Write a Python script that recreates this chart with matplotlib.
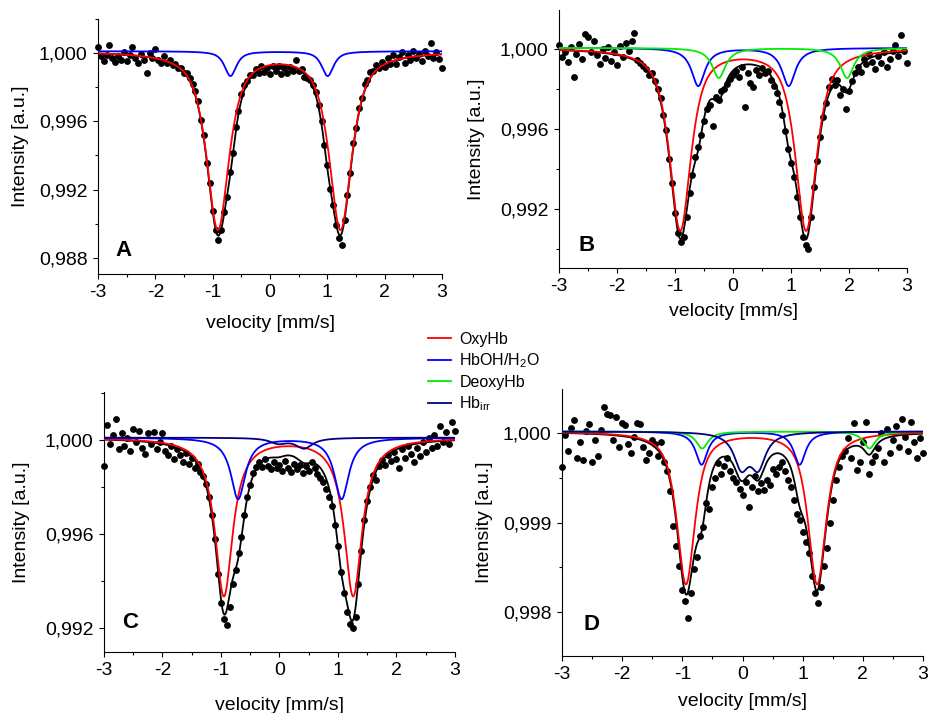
"""Four Moessbauer spectra (A-D) of haemoglobin samples with fitted sub-spectra."""

import numpy as np
import matplotlib
matplotlib.use("Agg")
import matplotlib.pyplot as plt
from matplotlib.lines import Line2D
from matplotlib.ticker import FuncFormatter, MultipleLocator

plt.rcParams["font.family"] = ["Liberation Sans", "DejaVu Sans"]
plt.rcParams["axes.unicode_minus"] = False
plt.rcParams["mathtext.default"] = "regular"

# channel velocities (mm/s)
VEL = np.linspace(-3.0, 3.0, 121)

INT_A = [
    1.00038, 0.99983, 0.99957, 0.99992, 1.00051, 0.99970, 0.99950, 0.99984, 0.99959, 1.00008,
    0.99952, 0.99991, 1.00035, 0.99974, 0.99942, 0.99996, 0.99960, 0.99883, 1.00002, 0.99970,
    1.00027, 0.99960, 0.99943, 0.99984, 0.99940, 0.99960, 0.99930, 0.99938, 0.99915, 0.99915,
    0.99884, 0.99883, 0.99852, 0.99822, 0.99778, 0.99719, 0.99611, 0.99520, 0.99358, 0.99236,
    0.99073, 0.98963, 0.98903, 0.98961, 0.99069, 0.99158, 0.99304, 0.99416, 0.99570, 0.99662,
    0.99758, 0.99815, 0.99839, 0.99874, 0.99874, 0.99907, 0.99886, 0.99923, 0.99888, 0.99912,
    0.99881, 0.99927, 0.99894, 0.99924, 0.99879, 0.99913, 0.99886, 0.99918, 0.99894, 0.99960,
    0.99893, 0.99906, 0.99863, 0.99856, 0.99845, 0.99816, 0.99774, 0.99695, 0.99601, 0.99460,
    0.99346, 0.99201, 0.99111, 0.98990, 0.98916, 0.98877, 0.99020, 0.99170, 0.99298, 0.99471,
    0.99561, 0.99681, 0.99740, 0.99817, 0.99841, 0.99892, 0.99893, 0.99933, 0.99914, 0.99949,
    0.99922, 0.99973, 0.99938, 0.99987, 0.99936, 0.99980, 1.00009, 0.99940, 0.99992, 0.99959,
    1.00011, 0.99972, 0.99994, 0.99955, 1.00012, 0.99983, 1.00059, 0.99974, 1.00005, 0.99965,
    0.99911,
]
INT_B = [
    1.00020, 0.99960, 0.99985, 0.99935, 1.00010, 0.99860, 0.99975, 1.00025, 0.99950, 1.00075,
    1.00060, 0.99985, 1.00040, 0.99970, 0.99925, 1.00000, 0.99955, 1.00010, 0.99940, 0.99985,
    0.99920, 1.00015, 0.99960, 1.00030, 0.99990, 1.00040, 1.00080, 0.99945, 0.99930, 0.99915,
    0.99900, 0.99870, 0.99880, 0.99840, 0.99800, 0.99755, 0.99670, 0.99595, 0.99450, 0.99330,
    0.99180, 0.99080, 0.99035, 0.99060, 0.99160, 0.99280, 0.99370, 0.99460, 0.99510, 0.99570,
    0.99640, 0.99700, 0.99720, 0.99615, 0.99760, 0.99745, 0.99790, 0.99800, 0.99825, 0.99850,
    0.99870, 0.99890, 0.99860, 0.99910, 0.99710, 0.99880, 0.99830, 0.99810, 0.99895, 0.99870,
    0.99905, 0.99880, 0.99890, 0.99845, 0.99815, 0.99780, 0.99735, 0.99670, 0.99590, 0.99500,
    0.99430, 0.99360, 0.99260, 0.99160, 0.99060, 0.99020, 0.99000, 0.99160, 0.99310, 0.99440,
    0.99560, 0.99660, 0.99730, 0.99810, 0.99850, 0.99820, 0.99845, 0.99770, 0.99800, 0.99700,
    0.99790, 0.99840, 0.99880, 0.99910, 0.99885, 0.99950, 0.99925, 0.99975, 0.99935, 0.99900,
    0.99965, 0.99930, 0.99985, 0.99910, 0.99950, 0.99990, 1.00020, 0.99965, 1.00070, 0.99990,
    0.99930,
]
INT_C = [
    0.99890, 1.00065, 0.99985, 1.00020, 1.00090, 0.99960, 1.00030, 0.99975, 1.00010, 0.99955,
    1.00045, 0.99990, 1.00040, 0.99965, 0.99940, 1.00030, 0.99985, 1.00035, 0.99960, 0.99990,
    1.00030, 0.99955, 0.99935, 0.99975, 0.99920, 0.99960, 0.99935, 0.99905, 0.99945, 0.99900,
    0.99925, 0.99880, 0.99900, 0.99865, 0.99845, 0.99815, 0.99760, 0.99680, 0.99580, 0.99430,
    0.99310, 0.99240, 0.99215, 0.99290, 0.99390, 0.99450, 0.99520, 0.99590, 0.99680, 0.99760,
    0.99810, 0.99860, 0.99885, 0.99905, 0.99885, 0.99920, 0.99890, 0.99875, 0.99905, 0.99880,
    0.99895, 0.99870, 0.99910, 0.99880, 0.99865, 0.99900, 0.99875, 0.99895, 0.99860, 0.99890,
    0.99870, 0.99905, 0.99880, 0.99855, 0.99840, 0.99820, 0.99790, 0.99760, 0.99720, 0.99640,
    0.99550, 0.99440, 0.99350, 0.99270, 0.99220, 0.99200, 0.99250, 0.99390, 0.99530, 0.99660,
    0.99740, 0.99800, 0.99850, 0.99830, 0.99890, 0.99915, 0.99895, 0.99935, 0.99910, 0.99950,
    0.99920, 0.99880, 0.99960, 0.99925, 0.99975, 0.99940, 0.99905, 0.99965, 0.99930, 0.99990,
    0.99950, 1.00010, 0.99965, 1.00020, 0.99975, 1.00060, 0.99990, 1.00035, 0.99985, 1.00075,
    1.00040,
]
INT_D = [
    0.99962, 0.99998, 0.99980, 1.00006, 1.00015, 0.99972, 0.99990, 0.99970, 1.00003, 1.00010,
    0.99968, 0.99992, 0.99975, 1.00004, 1.00029, 1.00022, 1.00020, 0.99993, 1.00018, 0.99985,
    1.00011, 1.00009, 0.99988, 0.99978, 0.99996, 1.00011, 1.00010, 0.99985, 0.99970, 0.99978,
    0.99992, 0.99988, 0.99975, 0.99990, 0.99968, 0.99958, 0.99935, 0.99896, 0.99874, 0.99852,
    0.99825, 0.99812, 0.99794, 0.99822, 0.99848, 0.99862, 0.99885, 0.99895, 0.99922, 0.99915,
    0.99940, 0.99950, 0.99967, 0.99955, 0.99963, 0.99972, 0.99958, 0.99950, 0.99945, 0.99938,
    0.99931, 0.99945, 0.99918, 0.99940, 0.99952, 0.99935, 0.99944, 0.99937, 0.99948, 0.99942,
    0.99960, 0.99955, 0.99962, 0.99968, 0.99958, 0.99948, 0.99940, 0.99925, 0.99910, 0.99903,
    0.99890, 0.99878, 0.99866, 0.99840, 0.99822, 0.99810, 0.99828, 0.99852, 0.99872, 0.99900,
    0.99925, 0.99948, 0.99962, 0.99975, 0.99980, 0.99995, 0.99972, 1.00011, 0.99959, 0.99968,
    0.99990, 1.00013, 0.99955, 0.99968, 0.99975, 0.99984, 1.00000, 0.99968, 1.00005, 0.99978,
    0.99992, 1.00008, 0.99985, 1.00016, 0.99996, 0.99980, 1.00013, 0.99990, 0.99972, 0.99995,
    0.99978,
]

# fitted sub-spectra: baseline, then
# (line centres mm/s, line depths, FWHM mm/s, Lorentzian fraction)
A_BASE = 1.00012
A_OXY = ([-0.91, 1.23], [0.0104, 0.0104], 0.47, 0.8)
A_HBOH = ([-0.69, 1.005], [0.00145, 0.00145], 0.25, 0.8)

B_BASE = 1.00007
B_OXY = ([-0.91, 1.26], [0.0091, 0.0091], 0.44, 0.8)
B_HBOH = ([-0.60, 0.96], [0.0019, 0.0019], 0.28, 1.0)
B_DEOXY = ([-0.244, 1.966], [0.0015, 0.0015], 0.28, 1.0)

C_BASE = 1.00010
C_OXY = ([-0.95, 1.26], [0.0067, 0.0067], 0.37, 1.0)
C_HBOH = ([-0.707, 1.062], [0.0026, 0.0026], 0.30, 1.0)
C_IRR = ([-0.02, 0.42], [0.00022, 0.00044], 0.35, 1.0)

D_BASE = 1.00002
D_OXY = ([-0.94, 1.24], [0.0017, 0.0017], 0.36, 0.8)
D_HBOH = ([-0.68, 0.95], [0.00037, 0.00037], 0.24, 1.0)
D_DEOXY = ([-0.67, 2.11], [0.00019, 0.00019], 0.24, 1.0)
D_IRR = ([-0.02, 0.26], [0.00037, 0.00037], 0.30, 1.0)

COL = {"oxy": "#ff0000", "hboh": "#0000ff", "deoxy": "#00ee00", "irr": "#000080"}


def dips(v, comp):
    """Summed line absorption of one sub-spectrum (pseudo-Voigt lines)."""
    centres, depths, fwhm, eta = comp
    g, s = fwhm / 2.0, fwhm / 2.3548
    out = np.zeros_like(v)
    for c, d in zip(centres, depths):
        x = v - c
        out += d * (eta * g**2 / (x**2 + g**2) + (1 - eta) * np.exp(-x**2 / (2 * s**2)))
    return out


panels = [
    # rect, data, base, components, ylim, major, minor, letter, letter pos, xlabelpad, ylabelpad
    ([0.1054, 0.6157, 0.3699, 0.3576], INT_A, A_BASE,
     [("oxy", A_OXY), ("hboh", A_HBOH)], (0.98704, 1.00201), 0.004, 0.002,
     "A", (0.073, 0.094), 10, 7),
    ([0.6011, 0.6241, 0.3742, 0.3619], INT_B, B_BASE,
     [("oxy", B_OXY), ("hboh", B_HBOH), ("deoxy", B_DEOXY)], (0.98904, 1.00197), 0.004, 0.002,
     "B", (0.08, 0.089), 5.5, 11),
    ([0.1118, 0.0856, 0.3774, 0.3647], INT_C, C_BASE,
     [("oxy", C_OXY), ("hboh", C_HBOH), ("irr", C_IRR)], (0.991, 1.00204), 0.004, 0.002,
     "C", (0.074, 0.113), 13, 11),
    ([0.6043, 0.0799, 0.3882, 0.3745], INT_D, D_BASE,
     [("oxy", D_OXY), ("hboh", D_HBOH), ("deoxy", D_DEOXY), ("irr", D_IRR)],
     (0.99751, 1.000495), 0.001, 0.0005, "D", (0.082, 0.119), 7, 7),
]

vf = np.linspace(-3, 3, 1201)
comma = FuncFormatter(lambda y, _: f"{y:.3f}".replace(".", ","))

fig = plt.figure(figsize=(9.3, 7.13), dpi=100)
for rect, data, base, comps, ylim, major, minor, letter, lpos, xpad, ypad in panels:
    ax = fig.add_axes(rect)
    ax.plot(VEL, data, "o", ms=3.9, color="black", mec="black", clip_on=False, zorder=2)
    total = base - sum(dips(vf, c) for _, c in comps)
    ax.plot(vf, total, color="black", lw=1.3, zorder=3)
    for key, c in comps:
        ax.plot(vf, base - dips(vf, c), color=COL[key], lw=1.3, zorder=4)
    ax.set_xlim(-3, 3)
    ax.set_ylim(*ylim)
    ax.xaxis.set_major_locator(MultipleLocator(1))
    ax.xaxis.set_minor_locator(MultipleLocator(0.5))
    ax.yaxis.set_major_locator(MultipleLocator(major))
    ax.yaxis.set_minor_locator(MultipleLocator(minor))
    ax.yaxis.set_major_formatter(comma)
    ax.spines[["top", "right"]].set_visible(False)
    for s in ("left", "bottom"):
        ax.spines[s].set_linewidth(0.8)
    ax.tick_params(which="major", direction="out", length=3.5, width=0.8, labelsize=14, pad=4)
    ax.tick_params(which="minor", direction="out", length=2, width=0.8)
    ax.set_xlabel("velocity [mm/s]", fontsize=14, labelpad=xpad)
    ax.set_ylabel("Intensity [a.u.]", fontsize=14, labelpad=ypad)
    ax.text(lpos[0], lpos[1], letter, transform=ax.transAxes, fontsize=16,
            fontweight="bold", ha="center", va="center")

handles = [Line2D([], [], color=COL[k], lw=1.3) for k in ("oxy", "hboh", "deoxy", "irr")]
labels = ["OxyHb", "HbOH/H$_2$O", "DeoxyHb", "Hb$_{irr}$"]
fig.legend(handles, labels, loc="upper left", bbox_to_anchor=(0.452, 0.546),
           frameon=False, fontsize=11.5, handlelength=1.4, handletextpad=0.55,
           labelspacing=0.3, borderpad=0)

fig.savefig("out.png", dpi=100)
